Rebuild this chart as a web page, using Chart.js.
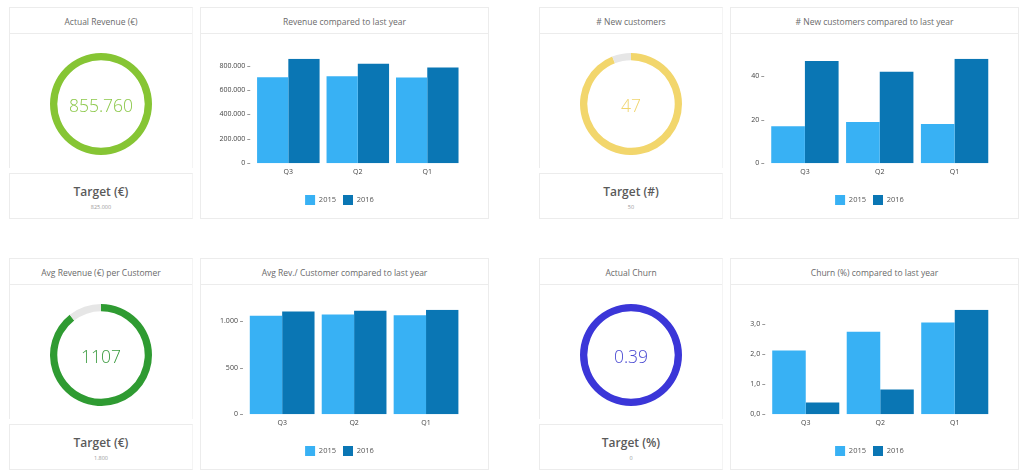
<!DOCTYPE html>
<html><head><meta charset="utf-8">
<script src="https://cdn.jsdelivr.net/npm/chart.js@4.4.1/dist/chart.umd.min.js"></script>
<style>
html,body{margin:0;padding:0;background:#fff;width:1024px;height:476px;overflow:hidden;font-family:"Open Sans",sans-serif;}
.box{position:absolute;box-sizing:border-box;border:1px solid #ececec;}
.hdr{position:absolute;left:0;right:0;top:0;height:26px;box-sizing:border-box;border-bottom:1px solid #ececec;text-align:center;font-size:8.5px;line-height:27px;color:#6a6a6a;white-space:nowrap;}
.val{position:absolute;text-align:center;font-weight:300;white-space:nowrap;}
.tgt{position:absolute;left:0;right:0;text-align:center;white-space:nowrap;}
canvas{position:absolute;}
</style>
</head><body>
<script>
// ---- data ----
const quarters = ['Q3', 'Q2', 'Q1'];
const years = ['2015', '2016'];
const revenue2015 = [704000, 712000, 701000];
const revenue2016 = [855760, 814000, 784000];
const newCustomers2015 = [17, 19, 18];
const newCustomers2016 = [47, 42, 48];
const avgRevenue2015 = [1061, 1075, 1065];
const avgRevenue2016 = [1107, 1115, 1126];
const churn2015 = [2.11, 2.73, 3.04];
const churn2016 = [0.39, 0.82, 3.46];
const revenueTicks = [0, 200000, 400000, 600000, 800000];
const newCustomersTicks = [0, 20, 40];
const avgRevenueTicks = [0, 500, 1000];
const churnTicks = [0, 1, 2, 3];

const gaugeTitles = ['Actual Revenue (€)', '# New customers', 'Avg Revenue (€) per Customer', 'Actual Churn'];
const gaugeValues = [855760, 47, 1107, 0.39];
const gaugeRemainders = [0, 3, 130, 0];
const gaugeValueLabels = ['855.760', '47', '1107', '0.39'];
const targetLabels = ['Target (€)', 'Target (#)', 'Target (€)', 'Target (%)'];
const targetValues = ['825.000', '50', '1.800', '0'];

const barTitles = ['Revenue compared to last year', '# New customers compared to last year',
  'Avg Rev./ Customer compared to last year', 'Churn (%) compared to last year'];

// ---- styling ----
const gaugeColors = ['#86c534', '#f2d66c', '#2f9b32', '#3b36d8'];
const gaugeTextColors = ['#8cc84a', '#f0d56e', '#3a9a3e', '#4848d2'];
const remainderColor = '#e6e6e6';
const color2015 = '#38b1f4';
const color2016 = '#0a76b4';

const thousands = v => String(v).replace(/\B(?=(\d{3})+(?!\d))/g, '.');
const commaDec = v => v.toFixed(1).replace('.', ',');

const rowTops = [7, 258];
const gaugeX = [9, 539];
const barX = [200, 730];
const padLeft = 16;

const barDefs = [
  {a: revenue2015, b: revenue2016, ticks: revenueTicks, fmt: thousands, axisW: 52.6},
  {a: newCustomers2015, b: newCustomers2016, ticks: newCustomersTicks, fmt: String, axisW: 36.5},
  {a: avgRevenue2015, b: avgRevenue2016, ticks: avgRevenueTicks, fmt: thousands, axisW: 45.2},
  {a: churn2015, b: churn2016, ticks: churnTicks, fmt: commaDec, axisW: 37.5}
];

function el(tag, cls, parent, style, text) {
  const e = document.createElement(tag);
  if (cls) e.className = cls;
  Object.assign(e.style, style || {});
  if (text !== undefined) e.textContent = text;
  (parent || document.body).appendChild(e);
  return e;
}

for (let i = 0; i < 4; i++) {
  const top = rowTops[Math.floor(i / 2)];
  const col = i % 2;
  // gauge panel
  const gx = gaugeX[col];
  const up = el('div', 'box', null, {left: gx + 'px', top: top + 'px', width: '184px', height: '161px', borderBottom: 'none', borderRightColor: '#f4f4f4'});
  el('div', 'hdr', up, {}, gaugeTitles[i]);
  const cv = el('canvas', null, null, {left: (gx + 92 - 51) + 'px', top: (top + 97 - 51) + 'px'});
  cv.width = 102; cv.height = 102;
  new Chart(cv, {
    type: 'doughnut',
    data: {labels: ['value', 'rest'], datasets: [{data: [gaugeValues[i], gaugeRemainders[i]],
      backgroundColor: [gaugeColors[i], remainderColor], borderWidth: 0}]},
    options: {responsive: false, animation: false, events: [], cutout: '85.7%', devicePixelRatio: 1,
      plugins: {legend: {display: false}, tooltip: {enabled: false}}}
  });
  el('div', 'val', null, {left: (gx + 42) + 'px', width: '100px', top: (top + 86) + 'px', fontSize: '17.5px', lineHeight: '24px', color: gaugeTextColors[i]}, gaugeValueLabels[i]);
  const low = el('div', 'box', null, {left: gx + 'px', top: (top + 166) + 'px', width: '184px', height: '46px', borderRightColor: '#f4f4f4'});
  el('div', 'tgt', low, {top: '10px', fontSize: '12px', lineHeight: '16px', fontWeight: '600', color: '#5a5a5a'}, targetLabels[i]);
  el('div', 'tgt', low, {top: '28.5px', fontSize: '5.5px', lineHeight: '8px', color: '#999'}, targetValues[i]);

  // bar panel
  const bx = barX[col];
  const bp = el('div', 'box', null, {left: bx + 'px', top: top + 'px', width: '289px', height: '212px'});
  el('div', 'hdr', bp, {}, barTitles[i]);
  const bc = el('canvas', null, null, {left: (bx + 1) + 'px', top: (top + 27) + 'px'});
  bc.width = 287; bc.height = 184;
  const d = barDefs[i];
  new Chart(bc, {
    type: 'bar',
    data: {labels: quarters, datasets: [
      {label: years[0], data: d.a, backgroundColor: color2015, borderWidth: 0},
      {label: years[1], data: d.b, backgroundColor: color2016, borderWidth: 0}
    ]},
    options: {
      responsive: false, animation: false, events: [], devicePixelRatio: 1,
      datasets: {bar: {categoryPercentage: 0.9, barPercentage: 1.0}},
      layout: {padding: {top: 24.7, right: 26, bottom: 3, left: padLeft}},
      scales: {
        x: {
          grid: {display: false, drawTicks: false}, border: {display: false},
          ticks: {color: '#444', padding: 4.5, font: {family: 'Open Sans', size: 7}},
          afterFit: s => { s.height = 24.7; }
        },
        y: {
          min: 0, max: Math.max(...d.a, ...d.b),
          grid: {display: false, drawTicks: false}, border: {display: false},
          afterBuildTicks: s => { s.ticks = d.ticks.map(v => ({value: v})); },
          ticks: {color: '#444', padding: 3, font: {family: 'Open Sans', size: 7},
            callback: v => d.fmt(v) + ' –'},
          afterFit: s => { s.width = d.axisW - padLeft; }
        }
      },
      plugins: {
        tooltip: {enabled: false},
        legend: {position: 'bottom', labels: {boxWidth: 10, boxHeight: 10, padding: 7,
          color: '#555', font: {family: 'Open Sans', size: 7.5}}}
      }
    }
  });
}
</script>
</body></html>
